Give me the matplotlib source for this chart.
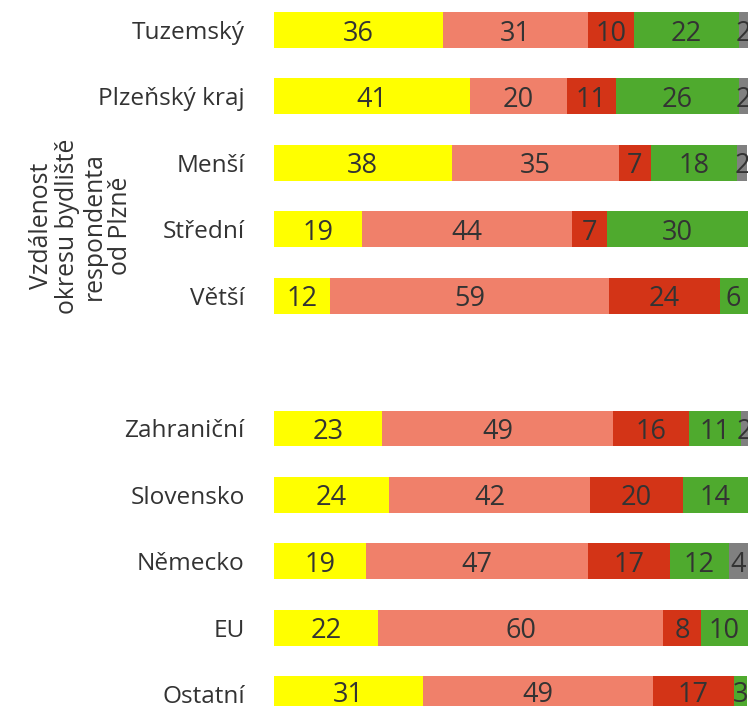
import matplotlib
matplotlib.use('Agg')
import matplotlib.pyplot as plt
import numpy as np

plt.rcParams['font.family'] = ['Open Sans', 'DejaVu Sans']

# categories top to bottom, '' is the empty gap row between the two groups
categories = ['Tuzemský', 'Plzeňský kraj', 'Menší', 'Střední', 'Větší', '',
              'Zahraniční', 'Slovensko', 'Německo', 'EU', 'Ostatní']

# segment widths (% of respondents)
yellow = [35.7, 41.4, 37.5, 18.5, 11.8, 0, 22.9, 24.3, 19.4, 22.0, 31.4]
salmon = [30.6, 20.4, 35.3, 44.5, 59.0, 0, 48.7, 42.4, 47.0, 60.2, 48.6]
red    = [9.7, 10.4, 6.8, 7.3, 23.3, 0, 16.0, 19.7, 17.3, 7.9, 17.1]
green  = [22.2, 26.0, 18.2, 29.7, 5.95, 0, 11.0, 13.6, 12.3, 10.0, 2.85]
grey   = [1.8, 1.8, 2.1, 0, 0, 0, 1.5, 0, 4.05, 0, 0]

# numbers printed inside the segments
yellow_lab = ['36', '41', '38', '19', '12', '', '23', '24', '19', '22', '31']
salmon_lab = ['31', '20', '35', '44', '59', '', '49', '42', '47', '60', '49']
red_lab    = ['10', '11', '7', '7', '24', '', '16', '20', '17', '8', '17']
green_lab  = ['22', '26', '18', '30', '6', '', '11', '14', '12', '10', '3']
grey_lab   = ['2', '2', '2', '', '', '', '2', '', '4', '', '']

series = [(yellow, yellow_lab, '#FFFF00'),
          (salmon, salmon_lab, '#F0806A'),
          (red, red_lab, '#D33417'),
          (green, green_lab, '#4FAA2E'),
          (grey, grey_lab, '#808080')]

txt = '#333333'

fig = plt.figure(figsize=(7.48, 7.06), dpi=100)
ax = fig.add_axes([274 / 748, 0, 473.5 / 748, 1])

y = np.arange(len(categories))
left = np.zeros(len(categories))
for vals, labs, col in series:
    bars = ax.barh(y, vals, left=left, height=0.54, color=col, edgecolor='none')
    anns = ax.bar_label(bars, labels=labs, label_type='center', fontsize=19.5, color=txt)
    for a in anns:
        a.set_va('center_baseline')
    left += np.array(vals)

ax.set_xlim(0, 100)
ax.set_ylim(10.18, -0.452)
ax.set_yticks(y)
ax.set_yticklabels(categories, fontsize=17.6, color=txt)
ax.tick_params(axis='y', length=0, pad=21)
ax.set_xticks([])
for s in ax.spines.values():
    s.set_visible(False)

fig.text(81 / 748, 1 - 226 / 706, 'Vzdálenost\nokresu bydliště\nrespondenta\nod Plzně',
         rotation=90, ha='center', va='center', multialignment='center',
         fontsize=17.8, color=txt, linespacing=1.08)

fig.savefig('out.png', dpi=100)
